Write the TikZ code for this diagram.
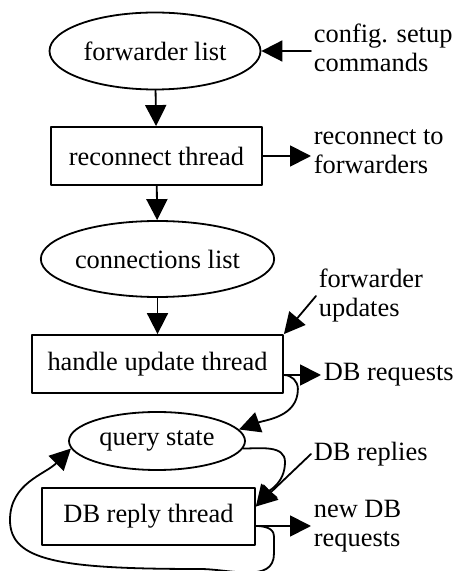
\documentclass[tikz,border=0pt]{standalone}
\usepackage{fontspec}
\setmainfont{Liberation Serif}
\usetikzlibrary{arrows.meta}
\usetikzlibrary{shapes.geometric}

\begin{document}
\begin{tikzpicture}[x=1pt,y=1pt,line cap=round,line join=round,line width=1.8pt,
    >={Triangle[length=21pt,width=21pt]},
    every node/.style={font=\fontsize{26.4}{29}\selectfont},
    store/.style={draw,ellipse,inner sep=0pt,minimum width=211pt,minimum height=77pt},
    thread/.style={draw,rectangle,inner sep=0pt,minimum height=58pt},
    note/.style={anchor=west,align=left,inner sep=2pt}]
        \useasboundingbox (0,0) rectangle (456,571);
        \node[store] (flist) at (155,520) {forwarder list};
        \node[thread,minimum width=211pt] (rthread) at (156.5,415) {reconnect thread};
        \node[store,minimum height=76pt] (clist) at (157.5,312) {connections list};
        \node[thread,minimum width=251pt] (hthread) at (157.5,207) {handle update thread};
        \node[store,minimum width=176pt,minimum height=58pt] (qstate) at (157,130) {query state};
        \node[thread,minimum width=213pt,minimum height=57pt] (dbthread) at (148.5,54.5) {DB reply thread};
        \node[note] (cfg) at (311,523) {config. setup\\commands};
        \node[note] (rto) at (311,419) {reconnect to\\forwarders};
        \node[note] (fupd) at (316,275) {forwarder\\updates};
        \node[note] (dbreq) at (321,196) {DB requests};
        \node[note] (dbrep) at (311,117) {DB replies};
        \node[note] (newdb) at (311,45) {new DB\\requests};
        \coordinate (hit) at ([yshift=10pt]dbthread.east);
        \draw[->] (flist.east -| cfg.west) -- (flist.east);
        \draw[->] (flist) -- (rthread);
        \draw[->] (rthread.east) -- (rthread.east -| rto.west);
        \draw[->] (rthread) -- (clist);
        \draw[->] (clist) -- (hthread);
        \draw[->] (fupd.west) -- (hthread.north east);
        \draw[->] (hthread.east |- dbreq.west) -- (dbreq.west);
        \draw[->] (hthread.east |- dbreq.west) to[out=0,in=90] ++(14,-14) to[out=-90,in=20] (qstate.8);
        \draw[->] (qstate.-5) to[out=0,in=90] (285,109) to[out=-90,in=50] (hit);
        \draw[->] (dbrep.west) -- (hit);
        \draw[->] (dbthread.east |- newdb.west) -- (newdb.west);
        \draw[->] (dbthread.east |- newdb.west) to[out=0,in=90] ++(18,-10) -- ++(0,-18)
            to[out=-90,in=0] (200,2) .. controls (60,2) and (10,10) .. (10,51)
            to[out=90,in=225] (qstate.185);
      \end{tikzpicture}
\end{document}
